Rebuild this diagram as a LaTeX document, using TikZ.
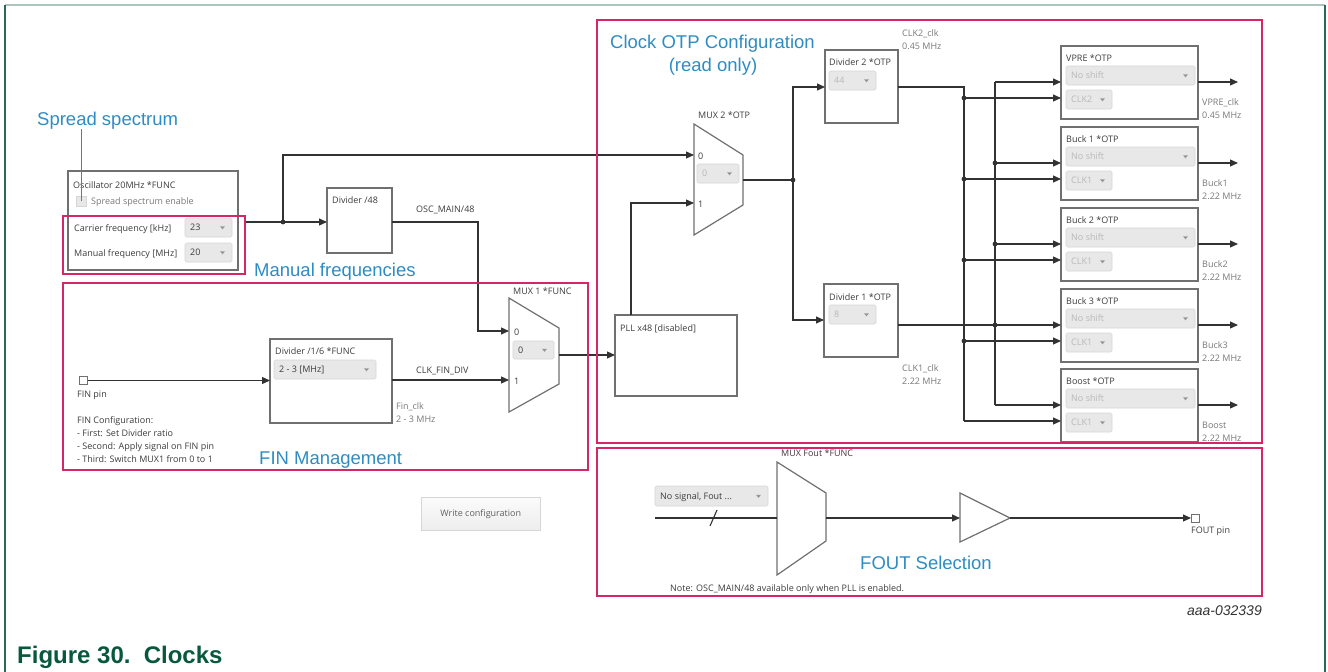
\documentclass[tikz,border=0pt]{standalone}
\usepackage{fontspec}
\setmainfont{Open Sans}
\newfontfamily\secfont{Liberation Sans}
\usetikzlibrary{arrows.meta,calc}

\definecolor{pinkc}{RGB}{214,38,104}
\definecolor{secblue}{RGB}{45,140,195}
\definecolor{boxgray}{RGB}{112,112,112}
\definecolor{wirec}{RGB}{50,50,50}
\definecolor{txtc}{RGB}{60,60,60}
\definecolor{midtxt}{RGB}{120,120,120}
\definecolor{dimtxt}{RGB}{185,185,185}
\definecolor{ddfill}{RGB}{232,232,232}
\definecolor{ddborder}{RGB}{214,214,214}
\definecolor{ddarrc}{RGB}{150,150,150}
\definecolor{framedark}{RGB}{40,105,92}
\definecolor{framelight}{RGB}{172,198,190}
\definecolor{capgreen}{RGB}{8,88,62}
\definecolor{idgray}{RGB}{50,50,50}

\newcommand\gui{\fontsize{9}{11}\selectfont}
\newcommand\secf{\secfont\fontsize{18.5}{22}\selectfont}
\newcommand\capf{\secfont\bfseries\fontsize{24}{28}\selectfont}
\newcommand\idf{\secfont\itshape\fontsize{14}{16}\selectfont}

\tikzset{
  gbox/.style={draw=boxgray, line width=1.2pt, fill=white, anchor=north west, inner sep=0pt, outer sep=0pt},
  lbl/.style={font=\gui, text=txtc, inner sep=0pt, anchor=base west},
  dlbl/.style={lbl, text=midtxt},
  ddbox/.style={draw=ddborder, fill=ddfill, rounded corners=1.5pt, anchor=north west, inner sep=0pt, outer sep=0pt, line width=0.6pt},
  sec/.style={font=\secf, text=secblue, inner sep=0pt, anchor=base west},
  pinkbox/.style={draw=pinkc, line width=2.2pt},
  wire/.style={draw=wirec, line width=1.1pt},
  arr/.style={wire, -{Triangle[length=8pt,width=7pt]}},
  jdot/.style={circle, fill=wirec, inner sep=0pt, minimum size=4.8pt},
  muxshape/.style={draw=boxgray, line width=1.2pt, fill=white},
}

% name, x, y, w, h, text, textcolor
\newcommand\ddown[7]{%
  \node[ddbox, minimum width=#4pt, minimum height=#5pt] (#1) at (#2,#3) {};
  \node[lbl, text=#7] (#1-t) at ($(#1.west)+(5,3.2)$) {#6};
  \fill[ddarrc] ($(#1.east)+(-12,-1.2)$) -- ++(5,0) -- ++(-2.5,3) -- cycle;
}

\begin{document}
\begin{tikzpicture}[x=1pt,y=-1pt]
\useasboundingbox (0,0) rectangle (1328,672);

% outer frame
\draw[framelight, line width=2pt] (5,5) -- (1325,5);
\draw[framedark, line width=1.4pt] (5,5) -- (5,672);
\draw[framedark, line width=1.4pt] (1325,5) -- (1325,672);

% caption and id
\node[font=\capf, text=capgreen, anchor=base west, inner sep=0pt] (caption) at (17,663) {Figure 30.\hspace{0.55em}Clocks};
\node[font=\idf, text=idgray, anchor=base east, inner sep=0pt] (figid) at (1262,615) {aaa-032339};

% ---------------- Oscillator ----------------
\node[gbox, minimum width=170pt, minimum height=99pt] (osc) at (68,171) {};
\node[lbl] (osct) at (73,188) {Oscillator 20MHz *FUNC};
\node[draw=ddborder, fill=ddfill, minimum size=10pt, inner sep=0pt, anchor=north west] (ck) at (76,196) {};
\node[lbl, text=midtxt] (ckt) at (91,204) {Spread spectrum enable};
\node[lbl] (cfl) at (74,231) {Carrier frequency [kHz]};
\ddown{cfd}{185}{218}{47}{19}{23}{txtc}
\node[lbl] (mfl) at (74,256) {Manual frequency [MHz]};
\ddown{mfd}{185}{243}{47}{19}{20}{txtc}

\node[sec] (ssl) at (37,125) {Spread spectrum};
\draw[secblue, line width=1pt] (ssl.south -| ck.center) -- (ck.center);
\node[sec] (mfrl) at (254,276) {Manual frequencies};

% ---------------- Divider /48 ----------------
\node[gbox, minimum width=65pt, minimum height=65pt] (div48) at (327,188) {};
\node[lbl] (div48t) at (332,203) {Divider /48};
\node[lbl] (oscm) at (416,212) {OSC\_MAIN/48};

\coordinate (oscout) at (245,222);
\coordinate (j1) at (283,222);
\coordinate (j1up) at (283,155);
\draw[wire] (oscout) -- (j1);
\draw[arr] (j1) -- (j1 -| div48.west);
\node[jdot] (j1d) at (j1) {};

% ---------------- MUX 1 ----------------
\coordinate (m1a) at (509,298);
\coordinate (m1b) at (559,328);
\coordinate (m1c) at (559,384);
\coordinate (m1d) at (509,412);
\draw[muxshape] (m1a) -- (m1b) -- (m1c) -- (m1d) -- cycle;
\node[lbl] (m1l) at (513,294) {MUX 1 *FUNC};
\node[lbl] (m1i0l) at (514,335) {0};
\node[lbl] (m1i1l) at (514,384) {1};
\ddown{m1dd}{513}{341}{41}{18}{0}{txtc}
\coordinate (m1in0) at (509,331);
\coordinate (m1in1) at (509,380);
\coordinate (m1out) at (559,355);
\coordinate (c478) at (478,222);
\draw[arr] (c478 -| div48.east) -- (c478) |- (m1in0);

% ---------------- FIN management ----------------
\node[draw=boxgray, fill=white, line width=1pt, minimum size=8pt, inner sep=0pt, anchor=north west] (finpin) at (79,376) {};
\node[lbl] (finpinl) at (77,397) {FIN pin};
\node[lbl] (fc1) at (77,423) {FIN Configuration:};
\node[lbl] (fc2) at (77,436) {- First: Set Divider ratio};
\node[lbl] (fc3) at (77,449) {- Second: Apply signal on FIN pin};
\node[lbl] (fc4) at (77,462) {- Third: Switch MUX1 from 0 to 1};

\node[gbox, minimum width=122pt, minimum height=84pt] (div16) at (270,339) {};
\node[lbl] (div16t) at (275,354) {Divider /1/6 *FUNC};
\ddown{div16dd}{274}{360}{102}{19}{2 - 3 [MHz]}{txtc}
\draw[arr] (finpin.east) -- (finpin.east -| div16.west);
\draw[arr] (m1in1 -| div16.east) -- (m1in1);
\node[lbl] (clkfin) at (416,373) {CLK\_FIN\_DIV};
\node[dlbl] (finclk1) at (396,409) {Fin\_clk};
\node[dlbl] (finclk2) at (396,422) {2 - 3 MHz};
\node[sec] (finml) at (259,464) {FIN Management};

% write configuration button
\node[draw=ddborder, top color=white!97!gray, bottom color=white!86!gray, line width=0.6pt, minimum width=119pt, minimum height=33pt, inner sep=0pt, anchor=north west] (wbtn) at (421,497) {};
\node[font=\gui, text=midtxt!80!black] (wbtnt) at (wbtn.center) {Write configuration};

% ---------------- PLL ----------------
\node[gbox, minimum width=122pt, minimum height=81pt] (pll) at (615,315) {};
\node[lbl] (pllt) at (620,331) {PLL x48 [disabled]};
\draw[arr] (m1out) -- (m1out -| pll.west);

% ---------------- MUX 2 ----------------
\coordinate (m2a) at (694,124);
\coordinate (m2b) at (743,155);
\coordinate (m2c) at (743,205);
\coordinate (m2d) at (694,235);
\draw[muxshape] (m2a) -- (m2b) -- (m2c) -- (m2d) -- cycle;
\node[lbl] (m2l) at (698,118) {MUX 2 *OTP};
\node[lbl] (m2i0l) at (698,159) {0};
\node[lbl] (m2i1l) at (698,207) {1};
\ddown{m2dd}{697}{164}{42}{19}{0}{dimtxt}
\coordinate (m2in0) at (694,155);
\coordinate (m2in1) at (694,203);
\coordinate (m2out) at (743,180);
\draw[arr] (j1) -- (j1up) -- (m2in0);
\coordinate (pllup) at (631,315);
\draw[arr] (pllup) |- (m2in1);

\node[sec] (otpl1) at (610,48) {Clock OTP Configuration};
\node[sec, anchor=base] (otpl2) at (713,71) {(read only)};

% ---------------- Divider 2 / Divider 1 ----------------
\node[gbox, minimum width=73pt, minimum height=73pt] (div2) at (825,50) {};
\node[lbl] (div2t) at (829,65) {Divider 2 *OTP};
\ddown{div2dd}{829}{71}{47}{19}{44}{dimtxt}
\node[gbox, minimum width=74pt, minimum height=73pt] (div1) at (824,284) {};
\node[lbl] (div1t) at (829,300) {Divider 1 *OTP};
\ddown{div1dd}{829}{305}{47}{19}{8}{dimtxt}
\node[dlbl] (clk2l1) at (902,36) {CLK2\_clk};
\node[dlbl] (clk2l2) at (902,49) {0.45 MHz};
\node[dlbl] (clk1l1) at (902,371) {CLK1\_clk};
\node[dlbl] (clk1l2) at (902,384) {2.22 MHz};

\coordinate (j2) at (793,180);
\coordinate (div2in) at (825,87);
\coordinate (div1in) at (824,320);
\draw[wire] (m2out) -- (j2);
\draw[arr] (j2) |- (div2in);
\draw[arr] (j2) |- (div1in);
\node[jdot] (j2d) at (j2) {};

% ---------------- Output blocks ----------------
\foreach \nm/\T/\ttl/\clk/\oa/\ob in {vpre/46/VPRE *OTP/CLK2/VPRE\_clk/0.45 MHz,
    buckA/127/Buck 1 *OTP/CLK1/Buck1/2.22 MHz,
    buckB/208/Buck 2 *OTP/CLK1/Buck2/2.22 MHz,
    buckC/289/Buck 3 *OTP/CLK1/Buck3/2.22 MHz,
    boost/369/Boost *OTP/CLK1/Boost/2.22 MHz}{
  \node[gbox, minimum width=137pt, minimum height=73pt] (\nm) at (1061,\T) {};
  \node[lbl] (\nm-t) at (1066,\T+15) {\ttl};
  \ddown{\nm-ns}{1066}{\T+20}{129}{19}{No shift}{dimtxt}
  \ddown{\nm-ck}{1066}{\T+44}{46}{19}{\clk}{dimtxt}
  \coordinate (\nm-in1) at (1061,\T+36);
  \coordinate (\nm-in2) at (1061,\T+52);
  \coordinate (\nm-out) at (1238,\T+36);
  \draw[arr] (\nm-in1 -| \nm.east) -- (\nm-out);
  \node[dlbl] (\nm-o1) at (1202,\T+59) {\oa};
  \node[dlbl] (\nm-o2) at (1202,\T+72) {\ob};
  \coordinate (\nm-b1) at (995,\T+36);
  \coordinate (\nm-b2) at (964,\T+52);
  \draw[arr] (\nm-b1) -- (\nm-in1);
  \draw[arr] (\nm-b2) -- (\nm-in2);
}
% CLK2 bus
\coordinate (d2o) at (964,87);
\draw[wire] (d2o -| div2.east) -- (d2o) -- (boost-b2);
% CLK1 bus
\draw[wire] (vpre-b1) -- (boost-b1);
\draw[wire] (buckC-b1 -| div1.east) -- (buckC-b1);
\foreach \nm in {vpre,buckA,buckB,buckC}{\node[jdot] at (\nm-b2) {};}
\foreach \nm in {buckA,buckB,buckC}{\node[jdot] at (\nm-b1) {};}

% ---------------- FOUT ----------------
\coordinate (mfa) at (777,462);
\coordinate (mfb) at (826,493);
\coordinate (mfc) at (826,541);
\coordinate (mfd) at (777,575);
\draw[muxshape] (mfa) -- (mfb) -- (mfc) -- (mfd) -- cycle;
\node[lbl] (mfl) at (781,456) {MUX Fout *FUNC};
\ddown{foutdd}{655}{486}{113}{20}{No signal, Fout ...}{txtc}
\coordinate (fsrc) at (655,518);
\coordinate (mfin) at (777,518);
\coordinate (mfout) at (826,518);
\draw[wire] (fsrc) -- (mfin);
\draw[wire] (710,526) -- (717,510);
\coordinate (bfa) at (960,493);
\coordinate (bfb) at (1010,518);
\coordinate (bfc) at (960,542);
\draw[muxshape] (bfa) -- (bfb) -- (bfc) -- cycle;
\coordinate (bfin) at (960,518);
\draw[arr] (mfout) -- (bfin);
\node[draw=boxgray, fill=white, line width=1pt, minimum size=8pt, inner sep=0pt, anchor=north west] (foutpin) at (1191,514) {};
\draw[arr] (bfb) -- (bfb -| foutpin.west);
\node[lbl] (foutl) at (1191,533) {FOUT pin};
\node[sec] (fsel) at (860,569) {FOUT Selection};
\node[lbl] (note) at (670,591) {Note: OSC\_MAIN/48 available only when PLL is enabled.};

% ---------------- pink frames ----------------
\draw[pinkbox] (597,20) rectangle (1262,443);
\draw[pinkbox] (597,448) rectangle (1262,596);
\draw[pinkbox] (63,283) rectangle (588,470);
\draw[pinkbox] (63,216) rectangle (245,274);
\end{tikzpicture}
\end{document}
